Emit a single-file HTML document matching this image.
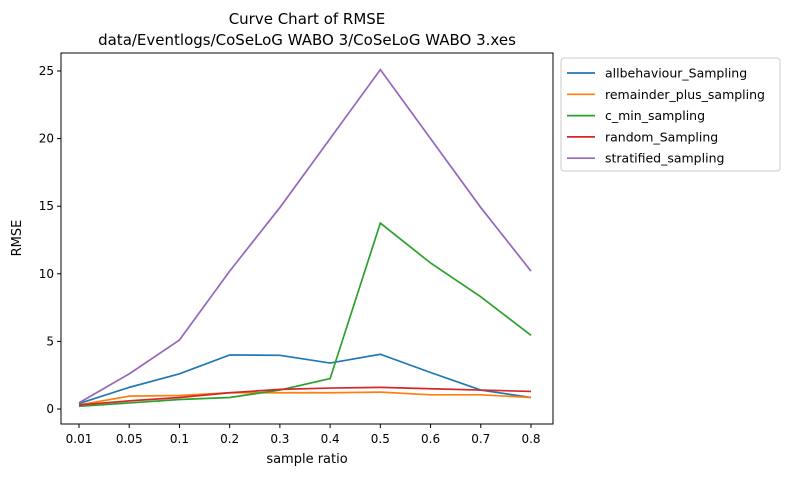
<!DOCTYPE html>
<html><head><meta charset="utf-8"><style>
body{margin:0;background:#fff;font-family:"Liberation Sans","DejaVu Sans",sans-serif}
svg text{font-family:"DejaVu Sans","Liberation Sans",sans-serif}
</style></head><body>
<svg id="c" width="797" height="476" xmlns="http://www.w3.org/2000/svg">
<rect width="797" height="476" fill="#fff"/>
<text x="307" y="24" text-anchor="middle" font-size="15">Curve Chart of RMSE</text>
<text x="307" y="45" text-anchor="middle" font-size="15">data/Eventlogs/CoSeLoG WABO 3/CoSeLoG WABO 3.xes</text>
<g id="grid"></g>
<g id="lines"></g>
<rect x="61" y="53" width="492" height="371" fill="none" stroke="#000" stroke-width="1"/>
<text x="307" y="463" text-anchor="middle" font-size="13">sample ratio</text>
<text x="21" y="238" text-anchor="middle" font-size="13" transform="rotate(-90 21 238)">RMSE</text>
<g id="legend"></g>
</svg>
<script>
const categories=["0.01","0.05","0.1","0.2","0.3","0.4","0.5","0.6","0.7","0.8"];
const seriesNames=["allbehaviour_Sampling","remainder_plus_sampling","c_min_sampling","random_Sampling","stratified_sampling"];
const allbehaviour=[0.4,1.6,2.6,4.0,3.97,3.4,4.05,2.7,1.4,0.85];
const remainder=[0.3,0.95,1.0,1.2,1.2,1.2,1.25,1.05,1.05,0.85];
const cmin=[0.2,0.45,0.7,0.85,1.4,2.25,13.75,10.8,8.3,5.45];
const random=[0.3,0.6,0.85,1.2,1.45,1.55,1.6,1.5,1.4,1.3];
const stratified=[0.45,2.6,5.1,10.2,14.9,20.0,25.1,20.0,14.9,10.2];
const yTicks=[0,5,10,15,20,25];
const colors=["#1f77b4","#ff7f0e","#2ca02c","#d62728","#9467bd"];
const NS="http://www.w3.org/2000/svg";
const xs=i=>79+i*(531-79)/9;
const ys=v=>409-v*(409-71)/25;
function mk(t,a,p){const e=document.createElementNS(NS,t);for(const k in a)e.setAttribute(k,a[k]);p.appendChild(e);return e;}
const g=document.getElementById('grid');
categories.forEach((c,i)=>{
 const l=mk('line',{x1:xs(i),x2:xs(i),y1:424,y2:428,stroke:'#000'},g);
 
 
 const t=mk('text',{x:xs(i),y:443,'text-anchor':'middle','font-size':12},g);t.textContent=c;
 
 
});
yTicks.forEach(v=>{
 const l=mk('line',{x1:57,x2:61,y1:ys(v),y2:ys(v),stroke:'#000'},g);
 
 
 const t=mk('text',{x:54,y:ys(v)+4,'text-anchor':'end','font-size':12},g);t.textContent=v;
 
 
});
const data=[allbehaviour,remainder,cmin,random,stratified];
const lg=document.getElementById('lines');
data.forEach((d,k)=>{
 const p=mk('polyline',{points:d.map((v,i)=>xs(i)+','+ys(v)).join(' '),fill:'none',stroke:colors[k],'stroke-width':1.7},lg);
 
 
});
const L=document.getElementById('legend');
const box=mk('rect',{x:561,y:58,width:219,height:113,rx:3,fill:'#fff',stroke:'#ccc'},L);


seriesNames.forEach((n,k)=>{
 const y=73+k*21.3;
 const l=mk('line',{x1:567,x2:595,y1:y,y2:y,stroke:colors[k],'stroke-width':1.7},L);
 
 
 const t=mk('text',{x:605,y:y+4.5,'font-size':12.5},L);t.textContent=n;
 
 
});
</script>
</body></html>
